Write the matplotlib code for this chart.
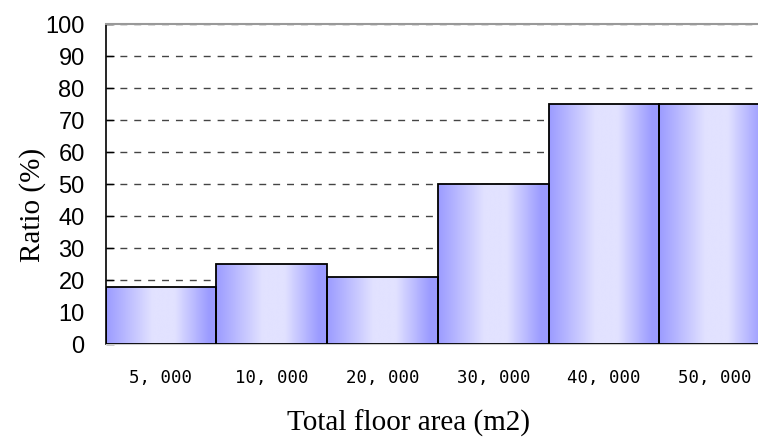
import numpy as np
import matplotlib
matplotlib.use("Agg")
import matplotlib.pyplot as plt
from matplotlib.colors import LinearSegmentedColormap

# floor-area classes and the share (%) for each class
areas = ["5,000", "10,000", "20,000", "30,000", "40,000", "50,000"]
ratio = [18, 25, 21, 50, 75, 75]
yticks = [0, 10, 20, 30, 40, 50, 60, 70, 80, 90, 100]

# horizontal shading inside each bar: darker at the sides, pale in the middle
shade = LinearSegmentedColormap.from_list(
    "bar_shade",
    [(0.0, "#9b9bff"), (0.42, "#e2e2ff"), (0.62, "#e2e2ff"),
     (0.93, "#9b9bff"), (1.0, "#9b9bff")])
grad = np.linspace(0, 1, 256).reshape(1, -1)

fig = plt.figure(figsize=(7.58, 4.44), dpi=100)
ax = fig.add_axes([0.1392, 0.2241, 0.877, 0.7212])

x = np.arange(len(areas))
bars = ax.bar(x, ratio, width=1.0, color="none", edgecolor="black",
              linewidth=1.3, zorder=3)
for b in bars:
    x0, w, h = b.get_x(), b.get_width(), b.get_height()
    im = ax.imshow(grad, cmap=shade, aspect="auto",
                   extent=(x0, x0 + w, 0, h), zorder=2)
    im.set_clip_path(b)

ax.set_xlim(-0.5, len(areas) - 0.5)
ax.set_ylim(0, 100)

ax.set_yticks(yticks)
ax.set_yticklabels([str(v) for v in yticks], fontsize=17,
                   family="Liberation Sans")
ax.yaxis.grid(True, linestyle=(0, (5, 5)), color="#444444", linewidth=1.0,
              zorder=1)
ax.tick_params(axis="y", direction="in", length=6, width=1.0, pad=15)

ax.set_xticks(x)
ax.set_xticklabels([a.replace(",", ", ") for a in areas], fontsize=12.5,
                   family="DejaVu Sans Mono")
ax.tick_params(axis="x", length=0, pad=18)

ax.spines["right"].set_visible(False)
ax.spines["top"].set_color("#999999")
ax.spines["top"].set_linewidth(1.5)
ax.spines["bottom"].set_color("#cccccc")
ax.spines["left"].set_color("black")
ax.spines["left"].set_linewidth(1.2)

ax.set_ylabel("Ratio (%)", fontsize=21, family="Liberation Serif", va="center")
ax.yaxis.set_label_coords(-0.11, 0.436)
ax.set_xlabel("Total floor area (m2)", fontsize=21, family="Liberation Serif",
              va="center")
ax.xaxis.set_label_coords(0.4565, -0.245)

fig.savefig("out.png", dpi=100)
